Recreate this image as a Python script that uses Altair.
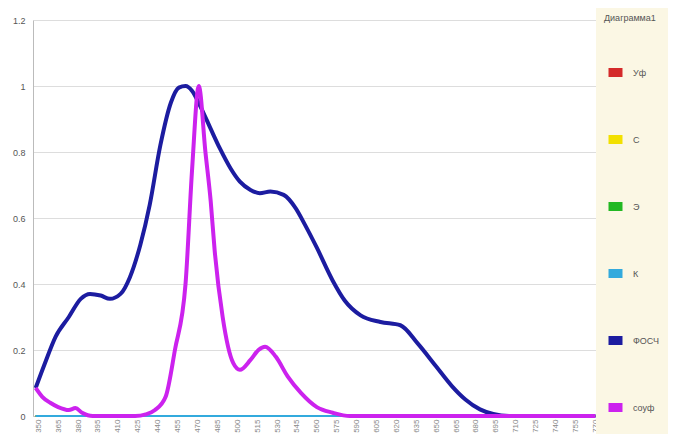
import altair as alt
import pandas as pd

# x tick labels (wavelength-like categories read as 29 evenly spaced ticks)
x_ticks = [350 + 15 * i for i in range(29)]

series_names = ["Уф", "С", "Э", "К", "ФОСЧ", "соуф"]
series_colors = ["#D42A2A", "#F2E000", "#22B822", "#33AADD", "#1C1CA0", "#CC22EE"]

# ФОСЧ (blue)
fosch_x = [348, 355, 363, 373, 382, 389, 397, 404, 412, 419, 427, 434, 442, 450,
           456, 461, 466, 472, 480, 487, 495, 502, 510, 517, 525, 535, 544, 551,
           560, 572, 581, 593, 608, 623, 636, 650, 662, 672, 683, 693, 705, 770]
fosch_y = [0.085, 0.16, 0.24, 0.30, 0.355, 0.37, 0.365, 0.355, 0.37, 0.42, 0.52, 0.64,
           0.82, 0.95, 0.995, 1.0, 0.985, 0.94, 0.87, 0.81, 0.75, 0.71, 0.685, 0.675,
           0.68, 0.67, 0.63, 0.58, 0.51, 0.41, 0.35, 0.305, 0.285, 0.275, 0.22, 0.15,
           0.09, 0.05, 0.02, 0.006, 0.0, 0.0]

# соуф (magenta)
souf_x = [348, 353, 359, 365, 373, 378, 383, 391, 423, 431, 438, 446, 453, 461,
          466, 471, 476, 480, 483, 489, 497, 502, 510, 516, 521, 529, 538, 548,
          560, 572, 585, 770]
souf_y = [0.085, 0.058, 0.04, 0.027, 0.018, 0.024, 0.01, 0.0, 0.0, 0.005, 0.018, 0.058,
          0.2, 0.4, 0.75, 1.0, 0.8, 0.65, 0.5, 0.3, 0.16, 0.14, 0.17, 0.2, 0.21, 0.18,
          0.12, 0.07, 0.027, 0.01, 0.0, 0.0]

# hidden component series (lying on the baseline)
zero_x = [348, 770]
zero_y = [0.0, 0.0]

rows = []
for name in ["Уф", "С", "Э", "К"]:
    for xv, yv in zip(zero_x, zero_y):
        rows.append({"x": xv, "y": yv, "s": name})
for xv, yv in zip(fosch_x, fosch_y):
    rows.append({"x": xv, "y": yv, "s": "ФОСЧ"})
for xv, yv in zip(souf_x, souf_y):
    rows.append({"x": xv, "y": yv, "s": "соуф"})
df = pd.DataFrame(rows)

color = alt.Color(
    "s:N",
    scale=alt.Scale(domain=series_names, range=series_colors),
    legend=alt.Legend(
        title="Диаграмма1",
        orient="none",
        legendX=563,
        legendY=-14,
        padding=8,
        fillColor="#FBF7E4",
        titleFontSize=9,
        titleFontWeight="normal",
        titleColor="#555555",
        titleFont="Liberation Sans",
        titlePadding=38,
        labelFontSize=9,
        labelColor="#555555",
        labelFont="Liberation Sans",
        symbolType="M-1,0H1",
        symbolSize=196,
        symbolStrokeWidth=9,
        rowPadding=30,
        labelOffset=6,
    ),
)

xenc = alt.X(
    "x:Q",
    scale=alt.Scale(domain=[346, 772], nice=False, zero=False),
    axis=alt.Axis(
        values=x_ticks, labelAngle=270, labelFontSize=8, labelColor="#888888",
        labelFont="Liberation Sans", labelOverlap=False, grid=False, ticks=False,
        domainColor="#BBBBBB", labelPadding=3, title=None, labelBaseline="middle",
    ),
)
yenc = alt.Y(
    "y:Q",
    scale=alt.Scale(domain=[0, 1.2], nice=False),
    axis=alt.Axis(
        values=[0, 0.2, 0.4, 0.6, 0.8, 1.0, 1.2], format="~g", labelFontSize=9,
        labelColor="#555555", labelFont="Liberation Sans", grid=True,
        gridColor="#DDDDDD", ticks=False, domainColor="#BBBBBB", labelPadding=8,
        title=None,
    ),
)

base = alt.Chart(df).encode(x=xenc, y=yenc, color=color)

layer_hidden = base.mark_line(strokeWidth=2, interpolate="monotone").transform_filter(
    alt.FieldOneOfPredicate(field="s", oneOf=["Уф", "С", "Э", "К"])
)
layer_fosch = base.mark_line(strokeWidth=4, interpolate="monotone").transform_filter(
    alt.datum.s == "ФОСЧ"
)
layer_souf = base.mark_line(strokeWidth=4, interpolate="monotone").transform_filter(
    alt.datum.s == "соуф"
)

chart = alt.layer(layer_hidden, layer_fosch, layer_souf).properties(
    width=565,
    height=396,
    autosize=alt.AutoSizeParams(type="none"),
    padding={"left": 25, "top": 12, "right": 80, "bottom": 20},
    background="white",
).configure_view(stroke=None, fill="white")

chart.save("out.html", embed_options={"renderer": "svg", "actions": False})
